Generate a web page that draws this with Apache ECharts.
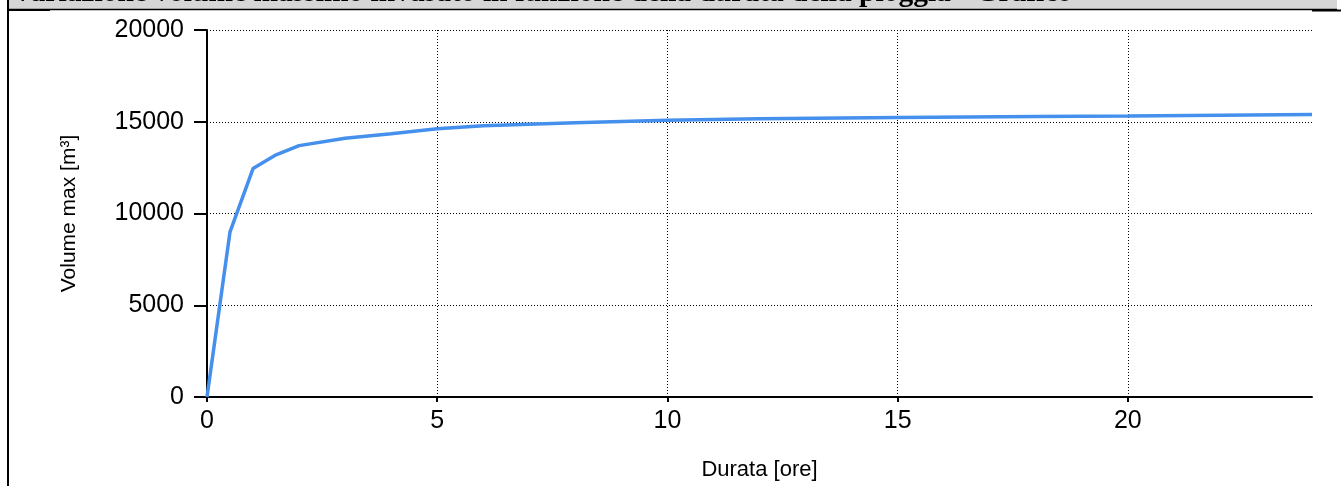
<!DOCTYPE html>
<html>
<head>
<meta charset="utf-8">
<script src="https://cdn.jsdelivr.net/npm/echarts@6/dist/echarts.min.js"></script>
<style>
html,body{margin:0;padding:0;background:#fff;}
#c{width:1341px;height:486px;}
</style>
</head>
<body>
<div id="c"></div>
<script>
var titleText = "Variazione volume massimo invasato in funzione della durata della pioggia - Grafico";
var xName = "Durata [ore]";
var yName = "Volume max [m\u00B3]";
var durations = [0, 0.5, 1, 1.5, 2, 3, 4, 5, 6, 8, 10, 12, 15, 18, 20, 24];
var volumes = [0, 9000, 12450, 13200, 13700, 14100, 14350, 14620, 14780, 14950, 15080, 15160, 15230, 15290, 15320, 15400];
var xTicks = [0, 5, 10, 15, 20];
var yTicks = [0, 5000, 10000, 15000, 20000];

var pts = durations.map(function (d, i) { return [d, volumes[i]]; });
var chart = echarts.init(document.getElementById('c'), null, {renderer: 'canvas'});
var lblFont = {fontFamily: 'Liberation Sans, Arial, sans-serif', color: '#000'};
chart.setOption({
  animation: false,
  backgroundColor: '#fff',
  graphic: [
    {type: 'rect', shape: {x: 8, y: 0, width: 1329, height: 9}, style: {fill: '#d6d6d6', stroke: null}, z: 0},
    {type: 'text', x: 12, y: 8, style: {text: titleText, font: 'bold 29.5px "Liberation Serif", "Times New Roman", serif', fill: '#000', verticalAlign: 'bottom', textAlign: 'left'}, z: 1},
    {type: 'rect', shape: {x: 0, y: 10, width: 1341, height: 476}, style: {fill: '#fff', stroke: null}, z: 2, silent: true},
    {type: 'line', shape: {x1: 8, y1: 9.5, x2: 1337, y2: 9.5}, style: {stroke: '#000', lineWidth: 1.5}, z: 3},
    {type: 'line', shape: {x1: 8, y1: 10, x2: 50, y2: 10}, style: {stroke: '#000', lineWidth: 2}, z: 3},
    {type: 'line', shape: {x1: 1312, y1: 10.5, x2: 1341, y2: 10.5}, style: {stroke: '#000', lineWidth: 2}, z: 3},
    {type: 'line', shape: {x1: 8, y1: 0, x2: 8, y2: 486}, style: {stroke: '#000', lineWidth: 2}, z: 3}
  ],
  grid: {left: 207, right: 29, top: 30, bottom: 84, containLabel: false, z: 5},
  xAxis: {
    type: 'value', min: 0, max: 24, interval: 5, z: 5,
    name: xName, nameLocation: 'middle', nameGap: 62,
    nameTextStyle: {fontFamily: 'Liberation Sans, Arial, sans-serif', fontSize: 22, color: '#000'},
    axisLine: {show: true, lineStyle: {color: '#000', width: 2}},
    axisTick: {show: true, length: 5, lineStyle: {color: '#000', width: 2}},
    axisLabel: Object.assign({fontSize: 25, margin: 12, showMaxLabel: false,
      formatter: function (v) { return xTicks.indexOf(v) >= 0 ? String(v) : ''; }}, lblFont),
    splitLine: {show: true, showMaxLine: false, lineStyle: {color: '#000', width: 1, type: [1, 2]}}
  },
  yAxis: {
    type: 'value', min: 0, max: 20000, interval: 5000, z: 5,
    name: yName, nameLocation: 'middle', nameGap: 127, nameRotate: 90,
    nameTextStyle: {fontFamily: 'Liberation Sans, Arial, sans-serif', fontSize: 21, color: '#000'},
    axisLine: {show: true, lineStyle: {color: '#000', width: 2}},
    axisTick: {show: true, length: 13, lineStyle: {color: '#000', width: 2}},
    axisLabel: Object.assign({fontSize: 25, margin: 23,
      formatter: function (v) { return yTicks.indexOf(v) >= 0 ? String(v) : ''; }}, lblFont),
    splitLine: {show: true, lineStyle: {color: '#000', width: 1, type: [1, 2]}}
  },
  series: [{
    type: 'line', data: pts, symbol: 'none', smooth: false, z: 6,
    lineStyle: {color: '#4590ec', width: 3.5}, clip: true
  }]
});
</script>
</body>
</html>
